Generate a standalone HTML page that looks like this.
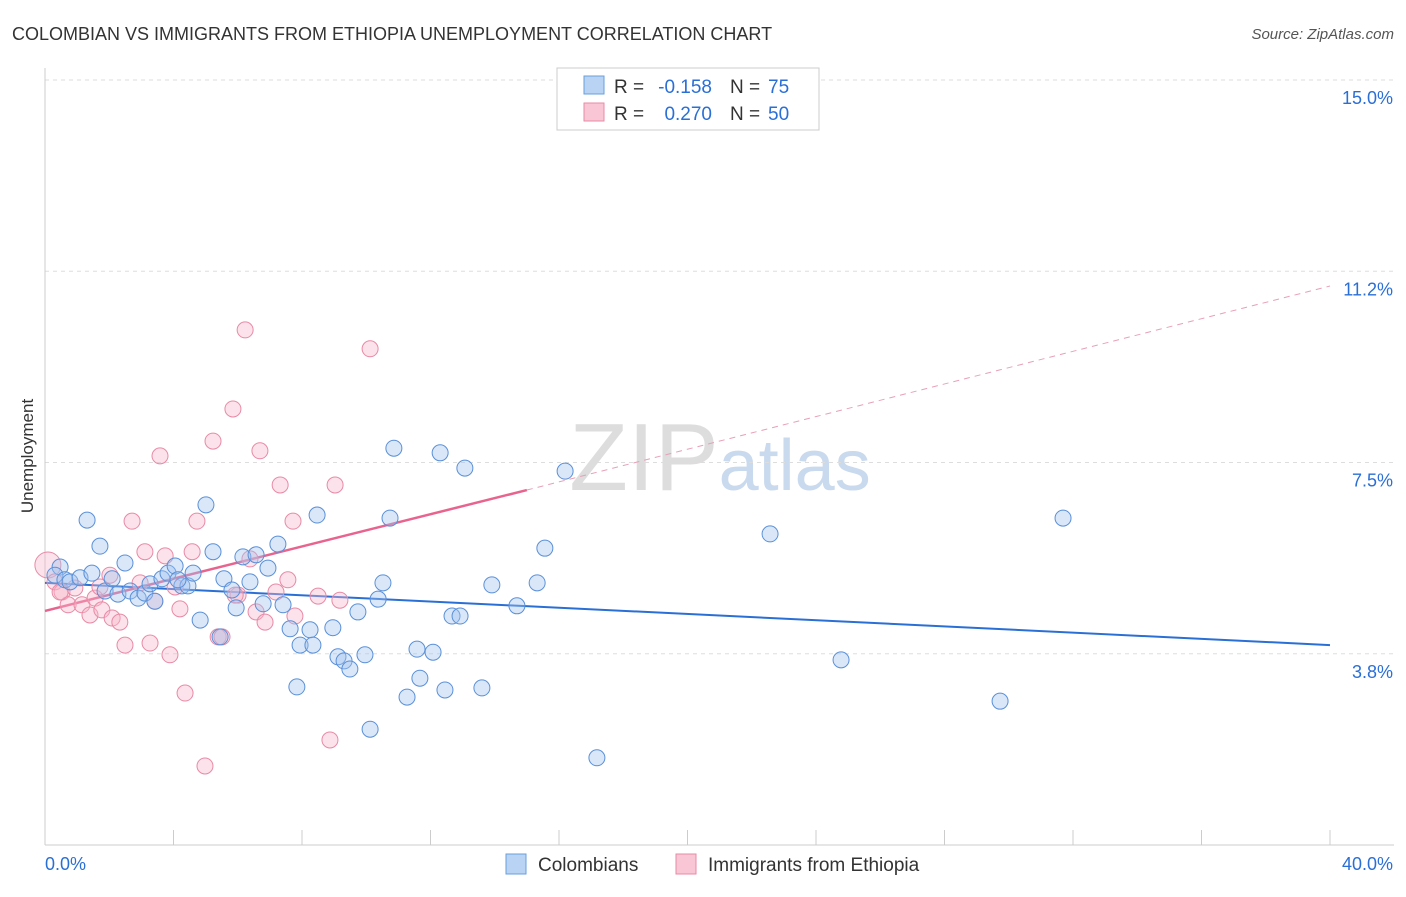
<!DOCTYPE html>
<html><head><meta charset="utf-8"><style>
body{margin:0;background:#fff;font-family:"Liberation Sans",sans-serif;}
svg text{font-family:"Liberation Sans",sans-serif;}
</style></head><body>
<svg width="1406" height="892" xmlns="http://www.w3.org/2000/svg" id="chart">
<text x="12" y="40" font-size="18" fill="#333">COLOMBIAN VS IMMIGRANTS FROM ETHIOPIA UNEMPLOYMENT CORRELATION CHART</text>
<text x="1394" y="39" font-size="15" fill="#555" font-style="italic" text-anchor="end">Source: ZipAtlas.com</text>
<text transform="translate(33,456) rotate(-90)" font-size="17" fill="#333" text-anchor="middle">Unemployment</text>
<text x="720" y="490" font-size="96" fill="#ddd" text-anchor="middle" font-family="Liberation Serif">ZIP<tspan fill="#c9d9ee" font-family="Liberation Sans" font-size="72">atlas</tspan></text>
<g id="grid"></g><g id="axes"></g><g id="trend"></g><g id="pts"></g>
<g>
<rect x="557" y="68" width="262" height="62" fill="#fff" stroke="#ccc"/>
<rect x="584" y="76" width="20" height="18" fill="#b8d3f3" stroke="#6a9fdc"/>
<rect x="584" y="103" width="20" height="18" fill="#f8c6d4" stroke="#e88aa6"/>
<text x="614" y="93" font-size="19" fill="#333">R =</text>
<text x="712" y="93" font-size="19" fill="#2a6fd6" text-anchor="end">-0.158</text>
<text x="730" y="93" font-size="19" fill="#333">N =</text>
<text x="768" y="93" font-size="19" fill="#2a6fd6">75</text>
<text x="614" y="120" font-size="19" fill="#333">R =</text>
<text x="712" y="120" font-size="19" fill="#2a6fd6" text-anchor="end">0.270</text>
<text x="730" y="120" font-size="19" fill="#333">N =</text>
<text x="768" y="120" font-size="19" fill="#2a6fd6">50</text>
</g>
<g>
<rect x="506" y="854" width="20" height="20" fill="#b8d3f3" stroke="#6a9fdc"/>
<text x="538" y="871" font-size="19" fill="#333">Colombians</text>
<rect x="676" y="854" width="20" height="20" fill="#f8c6d4" stroke="#e88aa6"/>
<text x="708" y="871" font-size="19" fill="#333">Immigrants from Ethiopia</text>
</g>
</svg>
<script>
const yTicks=[3.75,7.5,11.25,15];
const yTickLabels=["3.8%","7.5%","11.2%","15.0%"];
const xLabels=["0.0%","40.0%"];
const blueX=[0.47,0.31,0.62,0.78,1.09,1.31,1.46,1.71,1.87,2.09,2.27,2.49,2.65,2.9,3.11,3.27,3.42,3.64,3.83,4.05,4.26,4.45,4.61,4.83,5.01,5.23,5.45,5.57,5.82,5.95,6.16,6.38,6.57,6.79,6.94,7.25,7.41,7.63,7.84,7.94,8.25,8.34,8.47,8.96,9.12,9.31,9.49,9.74,9.96,10.12,10.37,10.52,10.74,10.86,11.27,11.58,11.67,12.08,12.3,12.45,12.67,12.92,13.07,13.6,13.91,14.69,15.32,15.56,16.19,17.18,22.57,24.78,29.73,31.69,4.14];
const blueY=[5.45,5.29,5.2,5.16,5.24,6.37,5.33,5.86,4.98,5.22,4.92,5.53,4.98,4.84,4.94,5.12,4.78,5.22,5.33,5.47,5.08,5.08,5.33,4.41,6.67,5.75,4.08,5.22,5.0,4.65,5.65,5.16,5.69,4.73,5.43,5.9,4.71,4.24,3.1,3.92,4.22,3.92,6.47,4.26,3.69,3.61,3.45,4.57,3.73,2.27,4.82,5.14,6.41,7.78,2.9,3.84,3.27,3.78,7.69,3.04,4.49,4.49,7.39,3.08,5.1,4.69,5.14,5.82,7.33,1.71,6.1,3.63,2.82,6.41,5.2];
const pinkX=[0.09,0.31,0.53,0.72,0.93,1.15,1.4,1.56,1.77,2.02,2.09,2.33,2.49,2.71,2.96,3.11,3.27,3.42,3.58,3.74,3.89,4.05,4.2,4.36,4.58,4.73,4.98,5.23,5.39,5.51,5.85,6.01,6.23,6.38,6.57,6.69,6.85,7.19,7.32,7.56,7.72,7.78,8.5,8.87,9.03,9.18,10.12,0.47,1.71,5.92];
const pinkY=[5.49,5.16,4.96,4.71,5.04,4.71,4.51,4.84,4.61,5.29,4.45,4.37,3.92,6.35,5.14,5.75,3.96,4.78,7.63,5.67,3.73,5.06,4.63,2.98,5.75,6.35,1.55,7.92,4.08,4.08,8.55,4.9,10.1,5.61,4.57,7.73,4.37,4.96,7.06,5.2,6.35,4.49,4.88,2.06,7.06,4.8,9.73,4.96,5.06,4.9];
const X0=45,XS=32.125,Y0=80,YS=51;
const px=v=>X0+v*XS, py=v=>Y0+(15-v)*YS;
const NS="http://www.w3.org/2000/svg";
function mk(g,t,a,name){const e=document.createElementNS(NS,t);for(const k in a)e.setAttribute(k,a[k]);


document.getElementById(g).appendChild(e);return e;}
yTicks.forEach((t,i)=>{mk('grid','line',{x1:45,x2:1394,y1:py(t),y2:py(t),stroke:'#ddd','stroke-dasharray':'4,4'},'gridline');
const tx=mk('axes','text',{x:1393,y:py(t)+24,'font-size':18,fill:'#2a6fd6','text-anchor':'end'},'y-tick-label');tx.textContent=yTickLabels[i];});
mk('axes','line',{x1:45,x2:45,y1:68,y2:845,stroke:'#ccc'},'y-axis-line');
mk('axes','line',{x1:45,x2:1394,y1:845,y2:845,stroke:'#ccc'},'x-axis-line');
for(let i=0;i<=10;i++)mk('axes','line',{x1:px(i*4),x2:px(i*4),y1:830,y2:845,stroke:'#ccc'},'x-tick');
let t1=mk('axes','text',{x:45,y:870,'font-size':18,fill:'#2a6fd6'},'x-tick-label');t1.textContent=xLabels[0];
let t2=mk('axes','text',{x:1393,y:870,'font-size':18,fill:'#2a6fd6','text-anchor':'end'},'x-tick-label');t2.textContent=xLabels[1];
mk('trend','line',{x1:px(0),y1:py(5.14),x2:px(40),y2:py(3.92),stroke:'#2a6fd6','stroke-width':2},'colombians-trend');
mk('trend','line',{x1:px(0),y1:py(4.59),x2:px(15),y2:py(6.96),stroke:'#e8648f','stroke-width':2.5},'ethiopia-trend');
mk('trend','line',{x1:px(15),y1:py(6.96),x2:px(40),y2:py(10.96),stroke:'#e8a0b6','stroke-width':1,'stroke-dasharray':'6,5'},'ethiopia-trend-extension');
pinkX.forEach((x,i)=>mk('pts','circle',{cx:px(x),cy:py(pinkY[i]),r:i==0?13:8,fill:'rgba(248,182,202,0.4)',stroke:'#e88aa6','stroke-width':1},'ethiopia-point'));
blueX.forEach((x,i)=>mk('pts','circle',{cx:px(x),cy:py(blueY[i]),r:8,fill:'rgba(160,196,240,0.4)',stroke:'#5a90d8','stroke-width':1},'colombian-point'));
</script>
</body></html>
